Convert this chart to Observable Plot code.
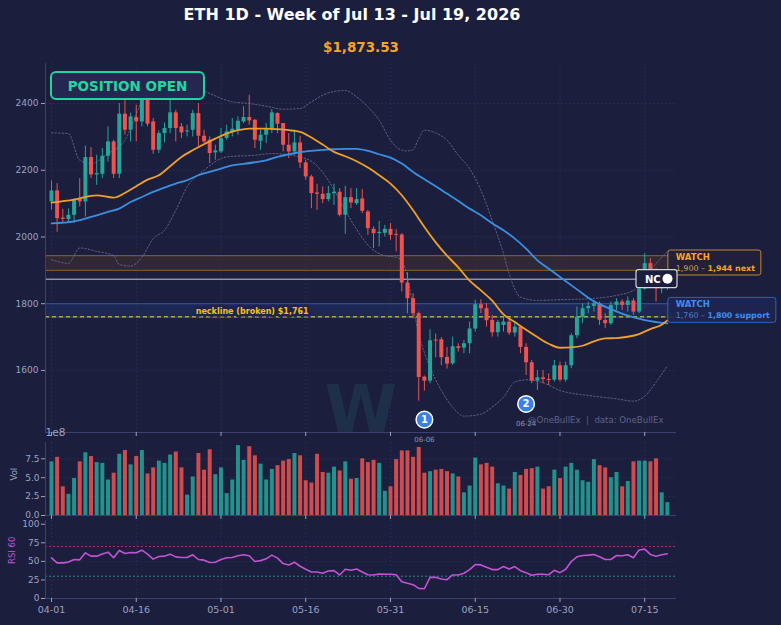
<!DOCTYPE html>
<html>
<head>
<meta charset="utf-8">
<script src="https://cdn.jsdelivr.net/npm/d3@7"></script>
<script src="https://cdn.jsdelivr.net/npm/@observablehq/plot@0.6"></script>
<style>
html,body{margin:0;padding:0;background:#1b1e3c;}
#chart{position:relative;width:781px;height:625px;overflow:hidden;background:#1b1e3c;font-family:"DejaVu Sans",sans-serif;}
#chart svg{position:absolute;left:0;overflow:visible;}
.ttl{position:absolute;white-space:nowrap;font-weight:bold;transform:translateX(-50%);line-height:1;}
</style>
</head>
<body>
<div id="chart">
  <div class="ttl" style="left:352px;top:7px;font-size:16px;color:#ffffff;">ETH 1D - Week of Jul 13 - Jul 19, 2026</div>
  <div class="ttl" style="left:361px;top:41px;font-size:13.5px;color:#f5a524;">$1,873.53</div>
</div>
<script>
// ---------------- data ----------------
const START = "2026-04-01";
const open = [2105,2138,2057,2052,2065,2115,2105,2238,2186,2188,
  2242,2285,2188,2368,2320,2358,2345,2420,2345,2260,
  2310,2325,2372,2330,2315,2320,2370,2302,2290,2252,
  2255,2295,2312,2320,2345,2358,2350,2287,2305,2322,
  2370,2340,2275,2255,2282,2222,2180,2132,2128,2112,
  2130,2134,2065,2118,2100,2114,2075,2023,2010,2011,
  2023,2007,2006,1862,1815,1770,1580,1568,1690,1692,
  1639,1620,1671,1667,1680,1724,1797,1785,1750,1713,
  1735,1745,1712,1730,1669,1623,1568,1578,1573,1571,
  1614,1571,1614,1704,1759,1785,1792,1800,1750,1740,
  1795,1805,1795,1808,1775,1844,1920,1900,1845,1850];
const high = [2168,2160,2083,2084,2115,2175,2272,2268,2245,2265,
  2330,2290,2400,2410,2371,2395,2445,2440,2355,2318,
  2342,2410,2380,2340,2335,2380,2400,2320,2300,2275,
  2325,2335,2355,2360,2390,2425,2352,2320,2340,2382,
  2372,2340,2310,2320,2302,2230,2185,2158,2150,2152,
  2158,2145,2152,2145,2145,2142,2080,2030,2047,2035,
  2040,2022,2010,1893,1830,1775,1583,1722,1709,1699,
  1669,1700,1680,1690,1745,1810,1812,1800,1765,1750,
  1760,1755,1745,1735,1680,1630,1600,1600,1590,1630,
  1625,1625,1710,1790,1800,1805,1810,1805,1770,1805,
  1815,1812,1820,1815,1850,1950,1935,1905,1860,1880];
const low = [2080,2014,2043,2041,2041,2090,2060,2175,2155,2175,
  2225,2175,2175,2305,2285,2285,2330,2330,2248,2250,
  2282,2310,2285,2295,2300,2300,2270,2280,2220,2230,
  2250,2290,2300,2305,2340,2335,2265,2260,2280,2310,
  2310,2255,2235,2245,2205,2170,2085,2080,2100,2105,
  2095,2060,2008,2085,2095,2070,2005,1965,1970,2000,
  1990,1955,1835,1770,1755,1508,1538,1560,1638,1614,
  1604,1615,1655,1650,1650,1715,1770,1730,1700,1700,
  1715,1705,1700,1650,1585,1560,1540,1560,1555,1565,
  1565,1565,1605,1695,1740,1770,1775,1735,1725,1735,
  1780,1780,1775,1765,1770,1840,1890,1805,1830,1840];
const close = [2138,2055,2053,2065,2110,2105,2238,2186,2190,2242,
  2285,2188,2368,2320,2360,2345,2420,2338,2260,2310,
  2325,2372,2325,2312,2318,2370,2302,2285,2250,2258,
  2295,2315,2323,2347,2358,2348,2290,2305,2322,2372,
  2338,2275,2255,2282,2222,2180,2130,2128,2112,2130,
  2134,2065,2118,2102,2112,2077,2025,2010,2014,2023,
  2005,2005,1862,1815,1770,1579,1568,1689,1688,1638,
  1619,1671,1666,1680,1724,1797,1785,1749,1713,1744,
  1745,1712,1730,1669,1623,1568,1578,1573,1570,1614,
  1571,1614,1704,1759,1785,1792,1800,1750,1740,1795,
  1805,1795,1808,1775,1844,1920,1900,1845,1850,1873.53];
// volume in units of 1e8
const volume = [7.1,7.7,3.8,2.8,4.9,7.1,8.3,7.8,7.0,6.9,
  4.7,5.6,8.1,8.6,6.7,7.8,8.6,5.5,6.3,7.2,
  6.9,8.0,8.4,6.3,2.7,5.1,8.2,6.0,8.7,5.4,
  6.3,2.9,4.7,9.25,7.3,9.1,7.9,6.8,4.7,6.1,
  6.6,7.2,7.4,8.2,7.9,4.6,4.3,8.1,5.7,5.6,
  6.4,5.9,7.1,4.8,4.9,7.5,7.0,7.3,6.9,3.2,
  3.8,7.4,8.55,8.55,7.7,9.0,5.6,5.8,6.0,6.1,
  5.8,5.5,5.1,3.0,3.9,7.6,6.7,6.9,6.4,4.2,
  3.9,3.5,5.7,5.3,6.1,6.2,6.4,3.5,3.8,6.0,
  4.9,6.4,6.9,6.0,4.6,4.4,7.4,6.6,6.3,5.0,
  5.7,3.8,4.5,7.1,7.2,7.2,7.1,7.5,3.0,1.7];
const rsi = [54.8,48,48,49,52.5,52,61.5,57,57,60,
  62.4,54.8,64.7,60.6,62,61.5,65,59.7,53,56.6,
  57,59.7,56,55.2,55.2,58.8,52.5,51.6,48.4,48.9,
  52.5,54.8,55.2,57.5,58.8,57.5,49.8,51,53.4,58.4,
  54.3,47,45.2,48.9,43.4,39.4,35.7,35.7,34,37,
  37.5,31.7,39.4,38,39.8,35.7,32,31.7,33,32.6,
  32.6,32,22.6,20.4,18.6,13.6,13.1,28.5,28.5,26.2,
  25.3,31.7,31.7,34,38.9,45.7,45.2,42,38.9,38.9,
  43,39.8,43,37.5,34.8,31.2,32.6,32.6,32,38,
  34.8,39.4,49.8,56.1,57.9,58.4,59.3,56.1,52.5,52.5,
  57.9,57.5,58.8,54.8,65.2,66.5,59.3,57,58.8,60.2];
// moving averages & bollinger bands (day index from START, value)
const fastMaDay = [0,4,8,11,13,15,17,19,21,23,25,27,29,31,33,35,38,40,42,44,46,48,50,52,54,56,58,60,62,64,66,68,70,72,74,76,78,80,82,84,86,88,90,92,94,96,98,100,102,104,106,108,109];
const fastMaVal = [2103,2112,2125,2118,2132,2152,2172,2185,2212,2240,2260,2278,2295,2310,2320,2325,2325,2323,2320,2315,2298,2277,2255,2242,2227,2208,2185,2160,2125,2080,2030,1984,1944,1909,1869,1840,1809,1768,1745,1722,1700,1680,1668,1669,1674,1687,1696,1697,1701,1709,1724,1737,1750];
const slowMaDay = [0,4,6,8,10,12,14,16,18,20,22,24,26,28,30,32,34,36,38,40,42,44,46,48,50,52,54,56,58,60,62,64,66,68,70,72,74,76,78,80,82,84,86,88,90,93,96,99,102,105,109];
const slowMaVal = [2041,2047,2055,2065,2075,2085,2105,2120,2135,2148,2160,2170,2185,2195,2205,2215,2219,2224,2230,2240,2248,2254,2258,2261,2263,2264,2264,2258,2248,2238,2220,2195,2173,2152,2130,2108,2085,2065,2041,2020,1995,1965,1930,1905,1880,1843,1807,1784,1764,1751,1741];
const bbUpDay = [0,3,5,7,10,13,16,20,24,28,32,35,38,41,44,46,48,50,52,54,56,58,60,62,63,64,65,66,68,70,72,74,76,78,80,81,83,86,90,95,100,103,105,107,109];
const bbUpVal = [2312,2310,2230,2220,2250,2290,2405,2470,2460,2430,2405,2400,2392,2383,2385,2405,2425,2436,2439,2420,2390,2350,2290,2260,2258,2262,2295,2320,2312,2290,2245,2205,2140,2050,1950,1890,1820,1810,1812,1815,1825,1840,1880,1920,1957];
const bbLoDay = [0,3,5,8,11,12,14,16,18,20,22,24,27,31,36,39,45,49,51,53,57,59,61,62,63,64,65,67,69,71,73,76,78,80,82,84,87,90,95,100,103,105,107,109];
const bbLoVal = [1932,1921,1967,1957,1944,1917,1913,1939,1995,2020,2080,2150,2200,2240,2245,2250,2235,2170,2110,2050,1960,1944,1939,1930,1880,1790,1710,1610,1540,1490,1463,1469,1490,1520,1565,1572,1563,1540,1525,1515,1508,1523,1565,1614];

const tickLabels = ["04-01","04-16","05-01","05-16","05-31","06-15","06-30","07-15"];
const priceTicks = [1600,1800,2000,2200,2400];
const volTicks = [0,2.5,5.0,7.5];
const rsiTicks = [0,25,50,75,100];
const currentPrice = 1873.53;
const necklinePrice = 1761;
const watchNext = [1900,1944];
const watchSupport = [1760,1800];
const rsiUpper = 70, rsiLower = 30;
const markerLabels = ["06-06","06-24"];
const markerNums = ["1","2"];

// ---------------- build ----------------
const DAY = 864e5;
const t0 = Date.parse(START + "T00:00:00Z");
const dayDate = i => new Date(t0 + i * DAY);
const mdDate = s => new Date(Date.UTC(2026, +s.slice(0,2) - 1, +s.slice(3)));
const candles = open.map((o,i) => ({date: dayDate(i), open:o, high:high[i], low:low[i], close:close[i], vol: volume[i]*1e8, rsi: rsi[i], up: close[i] >= o}));
const ups = candles.filter(d => d.up), downs = candles.filter(d => !d.up);
const series = (days, vals) => days.map((d,i) => ({date: dayDate(d), v: vals[i]}));
const fastMa = series(fastMaDay, fastMaVal), slowMa = series(slowMaDay, slowMaVal);
const bbUp = series(bbUpDay, bbUpVal), bbLo = series(bbLoDay, bbLoVal);
const tickDates = tickLabels.map(mdDate);
const xDomain = [new Date(t0 - 1.06*DAY), new Date(t0 + 110.62*DAY)];
const fmt = d3.format(",");

const UP = "#26a69a", DOWN = "#ef5350";
const AXIS = "#9ea2c0", SPINE = "#3b4072", GRID = "#2e3363";
const zoneStyle = {
  next:    {fill:"#3a2c34", fillOpacity:0.75, line:"#7d5627", color:"#f5a623", dim:"#d9a04e", box:"#c4862c", boxFill:"#221f3a", w:93},
  support: {fill:"#22306a", fillOpacity:0.55, line:"#2c4c92", color:"#3f8ff0", dim:"#4f82d2", box:"#2f62b8", boxFill:"#1f2550", w:108}
};
const zones = [
  {lo: watchNext[0], hi: watchNext[1], tag: "next"},
  {lo: watchSupport[0], hi: watchSupport[1], tag: "support"}
];
const markers = markerLabels.map((s,k) => {
  const date = mdDate(s); const c = candles.find(d => +d.date === +date);
  return {date, low: c.low, num: markerNums[k], label: s};
});

const common = {
  width: 781, marginLeft: 45, marginRight: 105,
  style: {background: "transparent", color: AXIS, fontFamily: "DejaVu Sans, sans-serif", fontSize: "9px", overflow: "visible"}
};
const gridStyle = {stroke: GRID, strokeDasharray: "1.5,2.5", strokeWidth: 0.8};

function overlay(index, scales, values, dims) {
  const {x, y} = scales;
  const right = dims.width - dims.marginRight;
  const g = d3.create("svg:g").attr("font-family", "DejaVu Sans, sans-serif").attr("text-anchor", "start");
  // POSITION OPEN badge
  const px = x(candles[0].date), py = dims.marginTop + 9;
  g.append("rect").attr("x", px).attr("y", py).attr("width", 153).attr("height", 27).attr("rx", 5)
    .attr("fill", "#242850").attr("stroke", "#1fd69e").attr("stroke-width", 2);
  g.append("text").attr("x", px + 76.5).attr("y", py + 14).attr("text-anchor", "middle").attr("dominant-baseline", "central")
    .attr("fill", "#22d6a2").attr("font-weight", "bold").attr("font-size", 13.5).text("POSITION OPEN");
  // WATCH boxes
  const last = candles[candles.length - 1].date;
  zones.forEach(z => {
    const s = zoneStyle[z.tag];
    const bx = x(last) + 1, cy = y((z.lo + z.hi) / 2);
    g.append("rect").attr("x", bx).attr("y", cy - 12.5).attr("width", s.w).attr("height", 25).attr("rx", 2.5)
      .attr("fill", s.boxFill).attr("fill-opacity", 0.9).attr("stroke", s.box).attr("stroke-width", 1);
    g.append("text").attr("x", bx + 8).attr("y", cy - 6).attr("dominant-baseline", "central").attr("text-anchor", "start")
      .attr("fill", s.color).attr("font-weight", "bold").attr("font-size", 8.5).text("WATCH");
    const t = g.append("text").attr("x", bx + 8).attr("y", cy + 5.5).attr("dominant-baseline", "central")
      .attr("text-anchor", "start").attr("font-size", 7.9);
    t.append("tspan").attr("fill", s.dim).text(`${fmt(z.lo)} \u2013 `);
    t.append("tspan").attr("fill", s.color).attr("font-weight", "bold").text(`${fmt(z.hi)} ${z.tag}`);
  });
  // NC label on the current price line
  const cy = y(currentPrice), bw = 41;
  g.append("rect").attr("x", right + 1 - bw).attr("y", cy - 9).attr("width", bw).attr("height", 18).attr("rx", 2.5)
    .attr("fill", "#1b1e3c").attr("stroke", "#d4d4dc").attr("stroke-width", 1.2);
  g.append("text").attr("x", right + 1 - bw + 9).attr("y", cy + 0.5).attr("dominant-baseline", "central").attr("text-anchor", "start")
    .attr("fill", "#ffffff").attr("font-weight", "bold").attr("font-size", 10).text("NC");
  g.append("circle").attr("cx", right - 8.5).attr("cy", cy).attr("r", 5).attr("fill", "#ffffff");
  return g.node();
}

const mainPlot = Plot.plot({
  ...common, height: 390, marginTop: 8, marginBottom: 13,
  x: {type: "utc", domain: xDomain, axis: null, label: null},
  y: {domain: [1414, 2520], axis: null, label: null},
  marks: [
    Plot.ruleY(priceTicks, gridStyle),
    Plot.ruleX(tickDates, gridStyle),
    Plot.rect(zones, {x1: () => xDomain[0], x2: () => xDomain[1], y1: "lo", y2: "hi",
      fill: d => zoneStyle[d.tag].fill, fillOpacity: d => zoneStyle[d.tag].fillOpacity}),
    Plot.ruleY(zones.flatMap(z => [{v: z.lo, tag: z.tag}, {v: z.hi, tag: z.tag}]), {y: "v", stroke: d => zoneStyle[d.tag].line, strokeWidth: 1.2}),
    Plot.ruleY([currentPrice], {stroke: "#c9c9d3", strokeWidth: 1}),
    Plot.ruleY([necklinePrice], {stroke: "#b39f3c", strokeWidth: 1.3, strokeDasharray: "4,3"}),
    Plot.text(["W"], {frameAnchor: "bottom", dy: -22, lineAnchor: "middle", text: d => d, fontSize: 66, fontWeight: "bold", fill: "#1f3a52", fillOpacity: 0.6}),
    Plot.line(bbUp, {x: "date", y: "v", stroke: "#676b8e", strokeWidth: 0.9, strokeDasharray: "1.5,2", curve: "monotone-x"}),
    Plot.line(bbLo, {x: "date", y: "v", stroke: "#676b8e", strokeWidth: 0.9, strokeDasharray: "1.5,2", curve: "monotone-x"}),
    Plot.ruleX(ups, {x: "date", y1: "low", y2: "high", stroke: UP, strokeWidth: 1}),
    Plot.ruleX(downs, {x: "date", y1: "low", y2: "high", stroke: DOWN, strokeWidth: 1}),
    Plot.ruleX(ups, {x: "date", y1: "open", y2: d => Math.max(d.close, d.open + 3), stroke: UP, strokeWidth: 4}),
    Plot.ruleX(downs, {x: "date", y1: "close", y2: d => Math.max(d.open, d.close + 3), stroke: DOWN, strokeWidth: 4}),
    Plot.line(slowMa, {x: "date", y: "v", stroke: "#3b8fe2", strokeWidth: 1.8, curve: "monotone-x"}),
    Plot.line(fastMa, {x: "date", y: "v", stroke: "#f0a024", strokeWidth: 1.8, curve: "monotone-x"}),
    Plot.text([necklinePrice], {x: () => dayDate(25), y: d => d, text: d => `neckline (broken) $${fmt(d)}`, dx: 3, dy: -5,
      textAnchor: "start", fill: "#f2c21b", fontWeight: "bold", fontSize: 8, stroke: "#1f2447", strokeWidth: 5}),
    Plot.dot(markers, {x: "date", y: "low", dy: 28.5, r: 8.3, fill: "#3b80e8", stroke: "#ffffff", strokeWidth: 1.5}),
    Plot.text(markers, {x: "date", y: "low", dy: 28.5, text: "num", fill: "#ffffff", fontWeight: "bold", fontSize: 10}),
    Plot.text(markers, {x: "date", y: "low", dy: 48.5, text: "label", fill: "#8c90ad", fontSize: 7}),
    Plot.text(["@OneBullEx\u00a0\u00a0|\u00a0\u00a0data: OneBullEx"], {frameAnchor: "bottom-right", dx: -13, dy: -12, lineAnchor: "middle",
      textAnchor: "end", text: d => d, fill: "#5f6388", fontSize: 8.6}),
    Plot.ruleX([xDomain[0]], {stroke: SPINE}),
    Plot.ruleY([1414], {stroke: SPINE}),
    Plot.axisY({ticks: priceTicks, tickSize: 4, tickPadding: 3, tickFormat: d => String(d)}),
    Plot.axisX({ticks: tickDates, tickSize: 4, tickFormat: () => ""}),
    overlay
  ]
});
mainPlot.style.top = "55px";

const volPlot = Plot.plot({
  ...common, height: 96, marginTop: 17, marginBottom: 6,
  x: {type: "utc", domain: xDomain, axis: null, label: null},
  y: {domain: [0, 9.66e8], axis: null, label: null},
  marks: [
    Plot.ruleY(volTicks.slice(1).map(v => v * 1e8), gridStyle),
    Plot.ruleX(tickDates, gridStyle),
    Plot.ruleX(ups, {x: "date", y1: 0, y2: "vol", stroke: UP, strokeOpacity: 0.85, strokeWidth: 4}),
    Plot.ruleX(downs, {x: "date", y1: 0, y2: "vol", stroke: DOWN, strokeOpacity: 0.85, strokeWidth: 4}),
    Plot.ruleX([xDomain[0]], {stroke: SPINE}),
    Plot.ruleY([0], {stroke: SPINE}),
    Plot.axisY({ticks: volTicks.map(v => v * 1e8), tickSize: 4, tickPadding: 2, tickFormat: d => (d / 1e8).toFixed(1)}),
    Plot.axisX({ticks: tickDates, tickSize: 4, tickFormat: () => ""}),
    Plot.text(["1e8"], {frameAnchor: "top-left", dy: -10, lineAnchor: "middle", textAnchor: "start", text: d => d, fontSize: 10.5, fill: AXIS}),
    Plot.text(["Vol"], {frameAnchor: "left", dx: -31, dy: 1.5, rotate: -90, text: d => d, fontSize: 8.5, fill: AXIS})
  ]
});
volPlot.style.top = "425px";

const rsiPlot = Plot.plot({
  ...common, height: 113, marginTop: 8, marginBottom: 27,
  x: {type: "utc", domain: xDomain, axis: null, label: null},
  y: {domain: [0, 105], axis: null, label: null},
  marks: [
    Plot.ruleY([25, 50, 75], gridStyle),
    Plot.ruleX(tickDates, gridStyle),
    Plot.ruleY([rsiUpper], {stroke: "#a3335f", strokeDasharray: "2,2", strokeWidth: 1}),
    Plot.ruleY([rsiLower], {stroke: "#2d8a86", strokeDasharray: "2,2", strokeWidth: 1}),
    Plot.line(candles, {x: "date", y: "rsi", stroke: "#c452d4", strokeWidth: 1.6}),
    Plot.ruleX([xDomain[0]], {stroke: SPINE}),
    Plot.ruleY([0], {stroke: SPINE}),
    Plot.axisY({ticks: rsiTicks, tickSize: 4, tickPadding: 2}),
    Plot.axisX({ticks: tickDates, tickSize: 4, tickPadding: 4, tickFormat: d3.utcFormat("%m-%d"), fontSize: 9.5}),
    Plot.text([`RSI ${Math.round(rsi[rsi.length - 1])}`], {frameAnchor: "left", dx: -33, dy: 4.5, rotate: -90, text: d => d, fontSize: 8.5, fill: "#c452d4"})
  ]
});
rsiPlot.style.top = "512px";

const root = document.getElementById("chart");
root.appendChild(mainPlot);
root.appendChild(volPlot);
root.appendChild(rsiPlot);
</script>
</body>
</html>
